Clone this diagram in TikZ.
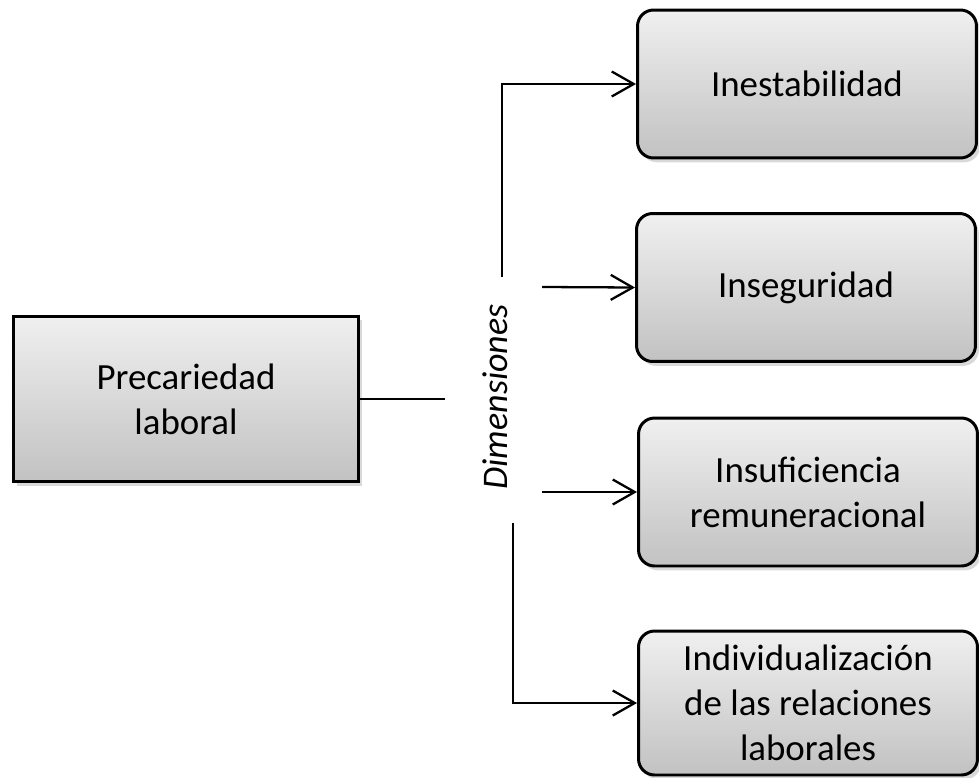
\documentclass[tikz,border=0pt]{standalone}
\usepackage{fontspec}
\setmainfont{Carlito}
\usetikzlibrary{arrows.meta,shadows}

\tikzset{
  caja/.style={draw=black, line width=1.7pt, top color=gray!12, bottom color=gray!48,
    drop shadow={opacity=0.3, shadow xshift=2pt, shadow yshift=-2.5pt},
    align=center, inner sep=0pt, font=\fontsize{21}{25.6}\selectfont},
  dimbox/.style={caja, rounded corners=0.32cm, minimum width=6.78cm, minimum height=2.96cm},
  linea/.style={line width=1.3pt},
  flecha/.style={linea, -{Straight Barb[length=0.44cm, width=0.5cm, line width=1.3pt]}}
}

\begin{document}
\begin{tikzpicture}[x=0.02cm, y=-0.02cm]
        \useasboundingbox (0,0) rectangle (979,777);

        \node[caja, minimum width=6.92cm, minimum height=3.32cm] (main) at (186,399) {Precariedad\\laboral};

        \node[dimbox] (inest) at (807,84) {Inestabilidad};
        \node[dimbox] (inseg) at (806,287.5) {Inseguridad};
        \node[dimbox] (insuf) at (808,492) {Insuficiencia\\remuneracional};
        \node[dimbox, minimum height=2.88cm] (indiv) at (808,703) {Individualización\\de las relaciones\\laborales};

        \node[rotate=90, font=\fontsize{20.5}{25.6}\selectfont\itshape] (dim) at (495,397) {Dimensiones};

        \coordinate (mainend) at (445,399);
        \coordinate (up1) at (502,277);
        \coordinate (a2) at (542,287);
        \coordinate (a3) at (542,492);
        \coordinate (dn4) at (513,523);

        \draw[linea] (main.east) -- (mainend);
        \draw[flecha] (up1) |- (inest.west);
        \draw[flecha] (a2) -- (inseg.west);
        \draw[flecha] (a3) -- (insuf.west);
        \draw[flecha] (dn4) |- (indiv.west);
    \end{tikzpicture}
\end{document}
